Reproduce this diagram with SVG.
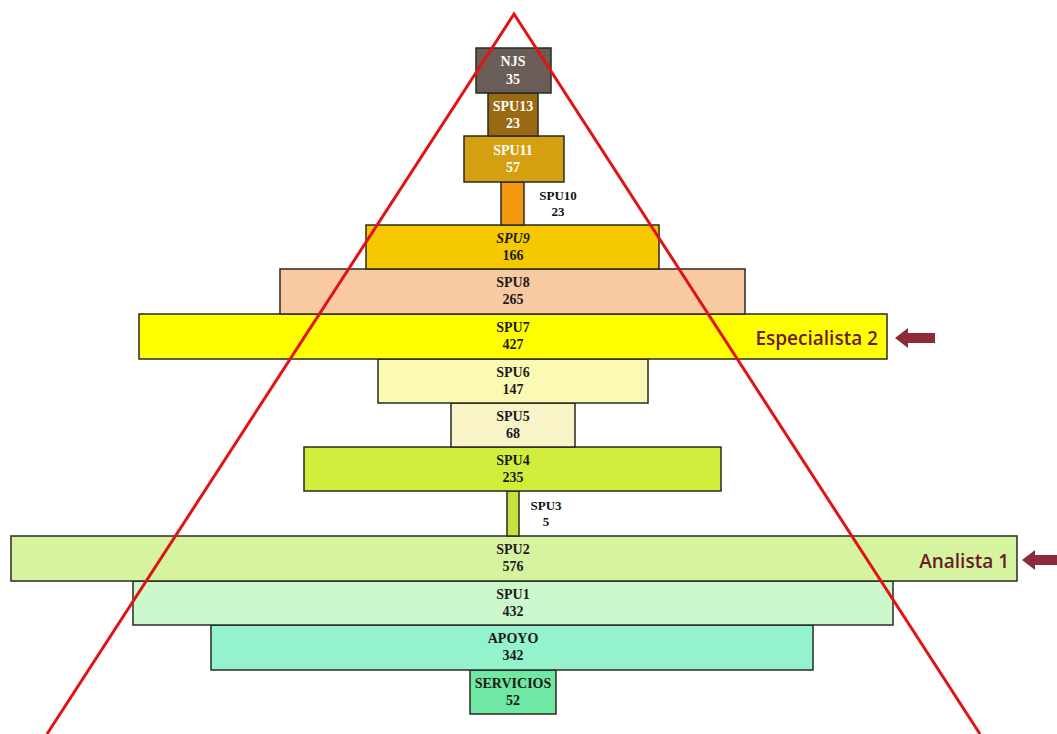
<svg xmlns="http://www.w3.org/2000/svg" width="1057" height="734" viewBox="0 0 1057 734">
  <style>
    .box { stroke: #2a2a22; stroke-width: 1.5; }
    .t { font-family: "Liberation Serif", "Times New Roman", serif; font-weight: bold; font-size: 14px; text-anchor: middle; fill: #1a1a1a; }
    .w { fill: #ffffff; }
    .side { font-family: "Liberation Serif", serif; font-weight: bold; font-size: 13px; text-anchor: middle; fill: #111; }
    .tag { font-family: "Open Sans", "Liberation Sans", sans-serif; font-weight: 600; font-size: 19px; fill: #6b1a2a; text-anchor: end; }
    .arrow { fill: #8c2a38; }
  </style>
  <defs>
    <path id="larrow" d="M0 0 L13 -10 L13 -5 L40 -5 L40 5 L13 5 L13 10 Z"/>
  </defs>

  <rect width="1057" height="734" fill="#ffffff"/>

  <g id="servicios">
    <rect class="box" x="470" y="670" width="86" height="44" fill="#6ee8a2"/>
    <text class="t" x="513" y="688">SERVICIOS</text>
    <text class="t" x="513" y="705">52</text>
  </g>
  <g id="apoyo">
    <rect class="box" x="211" y="625" width="602" height="45" fill="#94f2cc"/>
    <text class="t" x="513" y="643">APOYO</text>
    <text class="t" x="513" y="660">342</text>
  </g>
  <g id="spu1">
    <rect class="box" x="133" y="581" width="760" height="44" fill="#cdf8cc"/>
    <text class="t" x="513" y="599">SPU1</text>
    <text class="t" x="513" y="616">432</text>
  </g>
  <g id="spu2">
    <rect class="box" x="11" y="536" width="1006" height="45" fill="#d6f4a0"/>
    <text class="t" x="513" y="554">SPU2</text>
    <text class="t" x="513" y="571">576</text>
    <text class="tag" x="1009" y="568">Analista 1</text>
    <use href="#larrow" x="1022" y="560" class="arrow"/>
  </g>
  <g id="spu3">
    <rect class="box" x="507" y="491" width="12" height="45" fill="#c8e040"/>
    <text class="side" x="546" y="510">SPU3</text>
    <text class="side" x="546" y="526">5</text>
  </g>
  <g id="spu4">
    <rect class="box" x="304" y="447" width="417" height="44" fill="#d2ee3c"/>
    <text class="t" x="513" y="465">SPU4</text>
    <text class="t" x="513" y="482">235</text>
  </g>
  <g id="spu5">
    <rect class="box" x="451" y="403" width="124" height="44" fill="#f8f4c8"/>
    <text class="t" x="513" y="421">SPU5</text>
    <text class="t" x="513" y="438">68</text>
  </g>
  <g id="spu6">
    <rect class="box" x="378" y="359" width="270" height="44" fill="#fafab2"/>
    <text class="t" x="513" y="377">SPU6</text>
    <text class="t" x="513" y="394">147</text>
  </g>
  <g id="spu7">
    <rect class="box" x="139" y="314" width="748" height="45" fill="#ffff00"/>
    <text class="t" x="513" y="332">SPU7</text>
    <text class="t" x="513" y="349">427</text>
    <text class="tag" x="878" y="345">Especialista 2</text>
    <use href="#larrow" x="895" y="338" class="arrow"/>
  </g>
  <g id="spu8">
    <rect class="box" x="280" y="269" width="465" height="45" fill="#f9c9a2"/>
    <text class="t" x="513" y="287">SPU8</text>
    <text class="t" x="513" y="304">265</text>
  </g>
  <g id="spu9">
    <rect class="box" x="366" y="225" width="293" height="44" fill="#f6c800"/>
    <text class="t" x="513" y="243" font-style="italic">SPU9</text>
    <text class="t" x="513" y="260">166</text>
  </g>
  <g id="spu10">
    <rect class="box" x="501" y="182" width="23" height="43" fill="#f59a10"/>
    <text class="side" x="558" y="200">SPU10</text>
    <text class="side" x="558" y="216">23</text>
  </g>
  <g id="spu11">
    <rect class="box" x="464" y="136" width="100" height="46" fill="#d4a012"/>
    <text class="t w" x="513" y="155">SPU11</text>
    <text class="t w" x="513" y="172">57</text>
  </g>
  <g id="spu13">
    <rect class="box" x="488" y="93" width="50" height="43" fill="#9a6a12"/>
    <text class="t w" x="513" y="111">SPU13</text>
    <text class="t w" x="513" y="128">23</text>
  </g>
  <g id="njs">
    <rect class="box" x="476" y="48" width="75" height="45" fill="#6a5c56"/>
    <text class="t w" x="513" y="66">NJS</text>
    <text class="t w" x="513" y="84">35</text>
  </g>

  <g id="connectors">
    <polyline points="47,734 514,14 980,734" fill="none" stroke="#e01414" stroke-width="3"/>
  </g>
</svg>
